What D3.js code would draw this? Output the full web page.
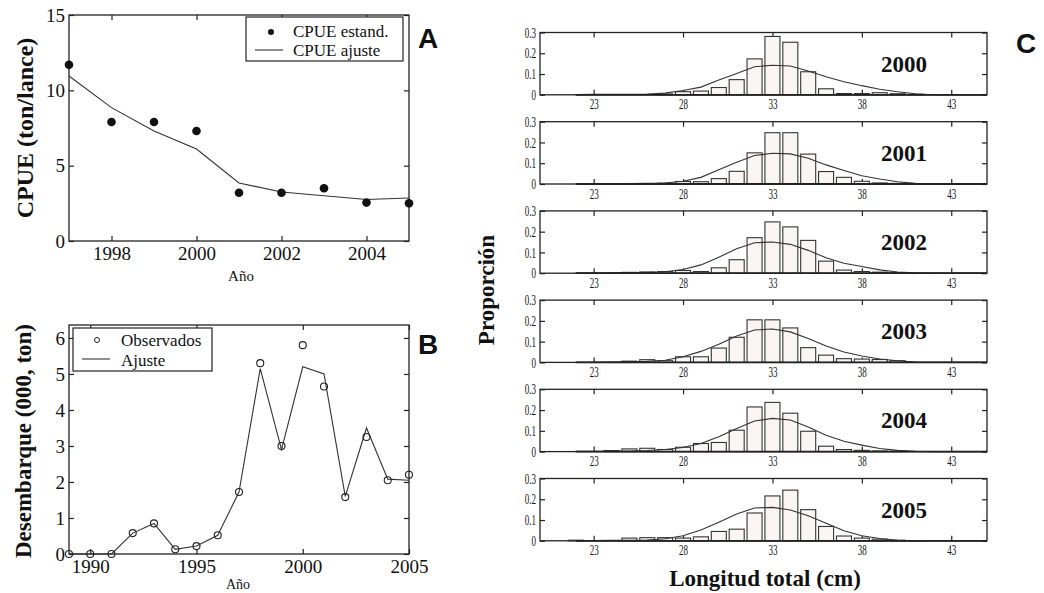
<!DOCTYPE html>
<html>
<head>
<meta charset="UTF-8">
<title>CPUE, desembarque y estructura de tallas</title>
<style>
  body { margin: 0; background: #fff; }
  svg text { font-family: "Liberation Serif", "DejaVu Serif", serif; fill: #111; }
</style>
</head>
<body>
<svg></svg>
<script src="https://d3js.org/d3.v7.min.js"></script>
<script>
// ---- data ----
// panel A
const cpueYears = [1997, 1998, 1999, 2000, 2001, 2002, 2003, 2004, 2005];
const cpueObs = [11.7, 7.9, 7.9, 7.3, 3.2, 3.2, 3.5, 2.55, 2.5];
const cpueFit = [10.95, 8.85, 7.3, 6.1, 3.85, 3.25, 3.0, 2.75, 2.85];

// panel B
const landYears = [1989, 1990, 1991, 1992, 1993, 1994, 1995, 1996, 1997, 1998, 1999, 2000, 2001, 2002, 2003, 2004, 2005];
const landObs = [0, 0, 0, 0.58, 0.85, 0.13, 0.22, 0.52, 1.72, 5.3, 3.0, 5.8, 4.65, 1.58, 3.25, 2.05, 2.2];
const landFit = [0, 0, 0, 0.58, 0.85, 0.13, 0.22, 0.52, 1.72, 5.15, 2.9, 5.2, 5.0, 1.6, 3.5, 2.08, 2.05];

// panel C
const sizeYears = ["2000", "2001", "2002", "2003", "2004", "2005"];
const barLengths = [22, 23, 24, 25, 26, 27, 28, 29, 30, 31, 32, 33, 34, 35, 36, 37, 38, 39, 40, 41];
const barProp = [
  [0, 0, 0, 0, 0, 0.004, 0.015, 0.018, 0.035, 0.073, 0.173, 0.281, 0.253, 0.111, 0.029, 0.006, 0.006, 0.010, 0.005, 0.002],
  [0, 0, 0, 0, 0, 0.004, 0.012, 0.011, 0.026, 0.061, 0.150, 0.247, 0.247, 0.144, 0.060, 0.032, 0.013, 0.005, 0.003, 0.001],
  [0, 0, 0, 0.004, 0.006, 0.008, 0.013, 0.008, 0.026, 0.065, 0.171, 0.247, 0.223, 0.158, 0.058, 0.015, 0.008, 0.005, 0.003, 0],
  [0, 0, 0, 0.006, 0.013, 0.008, 0.027, 0.027, 0.069, 0.121, 0.205, 0.205, 0.166, 0.071, 0.035, 0.018, 0.016, 0.014, 0.008, 0],
  [0, 0, 0.005, 0.013, 0.016, 0.010, 0.021, 0.039, 0.044, 0.103, 0.215, 0.237, 0.185, 0.098, 0.026, 0.010, 0.006, 0.003, 0.002, 0],
  [0.003, 0, 0, 0.013, 0.015, 0.015, 0.013, 0.019, 0.045, 0.056, 0.134, 0.216, 0.244, 0.150, 0.069, 0.023, 0.013, 0.008, 0.003, 0.001]
];
const curveLengths = [22, 23, 24, 25, 26, 27, 28, 29, 30, 31, 32, 33, 34, 35, 36, 37, 38, 39, 40, 41, 42, 43, 44, 45];
const curveProp = [
  [0.001, 0.002, 0.002, 0.003, 0.004, 0.008, 0.021, 0.037, 0.071, 0.103, 0.135, 0.142, 0.139, 0.115, 0.087, 0.063, 0.044, 0.027, 0.015, 0.005, 0, 0, 0, 0],
  [0.001, 0.001, 0.002, 0.002, 0.003, 0.005, 0.013, 0.032, 0.069, 0.105, 0.137, 0.148, 0.145, 0.124, 0.092, 0.065, 0.040, 0.024, 0.011, 0.003, 0, 0, 0, 0],
  [0.001, 0.001, 0.002, 0.002, 0.003, 0.007, 0.018, 0.040, 0.077, 0.118, 0.147, 0.150, 0.139, 0.110, 0.074, 0.048, 0.032, 0.016, 0.006, 0.002, 0, 0, 0, 0],
  [0.001, 0.001, 0.002, 0.003, 0.005, 0.010, 0.027, 0.053, 0.087, 0.127, 0.156, 0.161, 0.147, 0.115, 0.079, 0.050, 0.031, 0.016, 0.008, 0.002, 0, 0, 0, 0],
  [0.001, 0.001, 0.002, 0.003, 0.005, 0.010, 0.020, 0.039, 0.071, 0.111, 0.147, 0.160, 0.152, 0.119, 0.079, 0.050, 0.031, 0.015, 0.006, 0.002, 0, 0, 0, 0],
  [0.001, 0.001, 0.002, 0.003, 0.004, 0.010, 0.024, 0.052, 0.089, 0.129, 0.158, 0.161, 0.148, 0.121, 0.084, 0.048, 0.024, 0.011, 0.003, 0.001, 0, 0, 0, 0]
];
const sizeTicks = [23, 28, 33, 38, 43];
const propTicks = [0, 0.1, 0.2, 0.3];

// ---- layout ----
const width = 1044, height = 593;
const svg = d3.select("svg").attr("width", width).attr("height", height);
const serifFont = "'Liberation Serif', 'DejaVu Serif', serif";

// boxed axes with inward ticks on all sides (matlab style)
function boxAxes(g, x, y, xt, yt, o) {
  const [x0, x1] = x.range(), [y0, y1] = y.range();
  const tl = o.tl;
  const b = g.append("g").attr("transform", `translate(0,${y0})`)
    .call(d3.axisBottom(x).tickValues(xt).tickSizeInner(-tl).tickSizeOuter(0).tickPadding(o.px).tickFormat(o.xf || d3.format("d")));
  const t = g.append("g").attr("transform", `translate(0,${y1})`)
    .call(d3.axisTop(x).tickValues(xt).tickSizeInner(-tl).tickSizeOuter(0).tickFormat(""));
  const l = g.append("g").attr("transform", `translate(${x0},0)`)
    .call(d3.axisLeft(y).tickValues(yt).tickSizeInner(-tl).tickSizeOuter(0).tickPadding(o.py).tickFormat(o.yf || d3.format("d")));
  const r = g.append("g").attr("transform", `translate(${x1},0)`)
    .call(d3.axisRight(y).tickValues(yt).tickSizeInner(-tl).tickSizeOuter(0).tickFormat(""));
  [b, t, l, r].forEach(a => {
    a.attr("font-family", null).attr("font-size", null);
    a.select(".domain").remove();
    a.selectAll("line").attr("stroke", "#222").attr("stroke-width", 1.2);
    a.selectAll("text").style("font-family", serifFont).style("font-size", o.fs + "px").attr("fill", "#111");
  });
  g.append("rect").attr("x", x0).attr("y", y1).attr("width", x1 - x0).attr("height", y0 - y1)
    .attr("fill", "none").attr("stroke", "#222").attr("stroke-width", 1.3);
  return { b, l };
}

// ---- panel A ----
const xA = d3.scaleLinear().domain([1997, 2005]).range([69, 409]);
const yA = d3.scaleLinear().domain([0, 15]).range([241, 15]);
const gA = svg.append("g");
boxAxes(gA, xA, yA, [1998, 2000, 2002, 2004], [0, 5, 10, 15], { fs: 19, tl: 5, px: 6, py: 4 });

gA.append("path")
  .datum(cpueYears.map((d, i) => [d, cpueFit[i]]))
  .attr("d", d3.line().x(d => xA(d[0])).y(d => yA(d[1])))
  .attr("fill", "none").attr("stroke", "#333").attr("stroke-width", 1.1);
gA.selectAll("circle.obs").data(cpueYears).enter().append("circle")
  .attr("cx", d => xA(d)).attr("cy", (d, i) => yA(cpueObs[i])).attr("r", 4.3).attr("fill", "#111");

const legA = gA.append("g");
legA.append("rect").attr("x", 246).attr("y", 17).attr("width", 157).attr("height", 44)
  .attr("fill", "#fff").attr("stroke", "#222").attr("stroke-width", 1.2);
legA.append("circle").attr("cx", 271).attr("cy", 32).attr("r", 3).attr("fill", "#111");
legA.append("line").attr("x1", 255).attr("x2", 283).attr("y1", 50).attr("y2", 50).attr("stroke", "#333").attr("stroke-width", 1.1);
legA.append("text").attr("x", 293).attr("y", 37).style("font-size", "17px").text("CPUE estand.");
legA.append("text").attr("x", 293).attr("y", 56).style("font-size", "17px").text("CPUE ajuste");

svg.append("text").attr("x", 241).attr("y", 281).attr("text-anchor", "middle").style("font-size", "15px").text("Año");
svg.append("text").attr("transform", "translate(33,128) rotate(-90)").attr("text-anchor", "middle")
  .style("font-size", "24px").attr("font-weight", "bold").text("CPUE (ton/lance)");

// ---- panel B ----
const xB = d3.scaleLinear().domain([1989, 2005]).range([69, 409]);
const yB = d3.scaleLinear().domain([0, 6.36]).range([554, 325]);
const gB = svg.append("g");
boxAxes(gB, xB, yB, [1990, 1995, 2000, 2005], [0, 1, 2, 3, 4, 5, 6], { fs: 19, tl: 5, px: 6, py: 4 });

gB.append("path")
  .datum(landYears.map((d, i) => [d, landFit[i]]))
  .attr("d", d3.line().x(d => xB(d[0])).y(d => yB(d[1])))
  .attr("fill", "none").attr("stroke", "#333").attr("stroke-width", 1.1);
gB.selectAll("circle.obs").data(landYears).enter().append("circle")
  .attr("cx", d => xB(d)).attr("cy", (d, i) => yB(landObs[i])).attr("r", 3.5)
  .attr("fill", "none").attr("stroke", "#222").attr("stroke-width", 1.1);

const legB = gB.append("g");
legB.append("rect").attr("x", 73).attr("y", 328).attr("width", 139).attr("height", 43)
  .attr("fill", "#fff").attr("stroke", "#222").attr("stroke-width", 1.2);
legB.append("circle").attr("cx", 97).attr("cy", 340).attr("r", 2.5).attr("fill", "none").attr("stroke", "#222");
legB.append("line").attr("x1", 82).attr("x2", 110).attr("y1", 359).attr("y2", 359).attr("stroke", "#333").attr("stroke-width", 1.1);
legB.append("text").attr("x", 121).attr("y", 346).style("font-size", "17px").text("Observados");
legB.append("text").attr("x", 121).attr("y", 366).style("font-size", "17px").text("Ajuste");

svg.append("text").attr("x", 238).attr("y", 589).attr("text-anchor", "middle").style("font-size", "14px").text("Año");
svg.append("text").attr("transform", "translate(31,441) rotate(-90)").attr("text-anchor", "middle")
  .style("font-size", "23px").attr("font-weight", "bold").text("Desembarque (000, ton)");

// ---- panel C ----
const xC = d3.scaleLinear().domain([20, 45]).range([540, 987]);
const cTop = 32.5, cStep = 89.2, cH = 62.3;

sizeYears.forEach((yr, k) => {
  const top = cTop + k * cStep;
  const yC = d3.scaleLinear().domain([0, 0.3]).range([top + cH, top]);
  const g = svg.append("g");
  const ax = boxAxes(g, xC, yC, sizeTicks, propTicks,
    { fs: 12, tl: 5, px: 5, py: 3, xf: d3.format("d"), yf: d => d === 0 ? "0" : d3.format(".1f")(d) });
  ax.b.selectAll("text").attr("transform", "scale(0.75,1.2)").attr("dy", "0.6em");
  ax.l.selectAll("text").attr("transform", "scale(0.75,1.2)").attr("x", -4 / 0.75);

  g.selectAll("rect.bar").data(barLengths).enter().append("rect")
    .attr("x", d => xC(d - 0.42))
    .attr("width", xC(0.84) - xC(0))
    .attr("y", (d, i) => yC(barProp[k][i]))
    .attr("height", (d, i) => yC(0) - yC(barProp[k][i]))
    .attr("fill", "#f9f5f5").attr("stroke", "#333").attr("stroke-width", 1.1);

  g.append("path")
    .datum(curveLengths.map((d, i) => [d, curveProp[k][i]]))
    .attr("d", d3.line().x(d => xC(d[0])).y(d => yC(d[1])))
    .attr("fill", "none").attr("stroke", "#333").attr("stroke-width", 1.1);
  g.append("line").attr("x1", xC(22)).attr("x2", xC(45)).attr("y1", yC(0)).attr("y2", yC(0))
    .attr("stroke", "#222").attr("stroke-width", 1.8);

  g.append("text").attr("x", 904).attr("y", top + 39).attr("text-anchor", "middle")
    .style("font-size", "23px").attr("font-weight", "bold").text(yr);
});

svg.append("text").attr("transform", "translate(494,290) rotate(-90)").attr("text-anchor", "middle")
  .style("font-size", "23px").attr("font-weight", "bold").text("Proporción");
svg.append("text").attr("x", 765).attr("y", 586).attr("text-anchor", "middle")
  .style("font-size", "23px").attr("font-weight", "bold").text("Longitud total (cm)");

// panel letters
[["A", 418, 48], ["B", 418, 354], ["C", 1016, 53]].forEach(p => {
  svg.append("text").attr("x", p[1]).attr("y", p[2])
    .style("font-family", "'Liberation Sans', Arial, sans-serif")
    .attr("font-weight", "bold").style("font-size", "28px").text(p[0]);
});
</script>
</body>
</html>
